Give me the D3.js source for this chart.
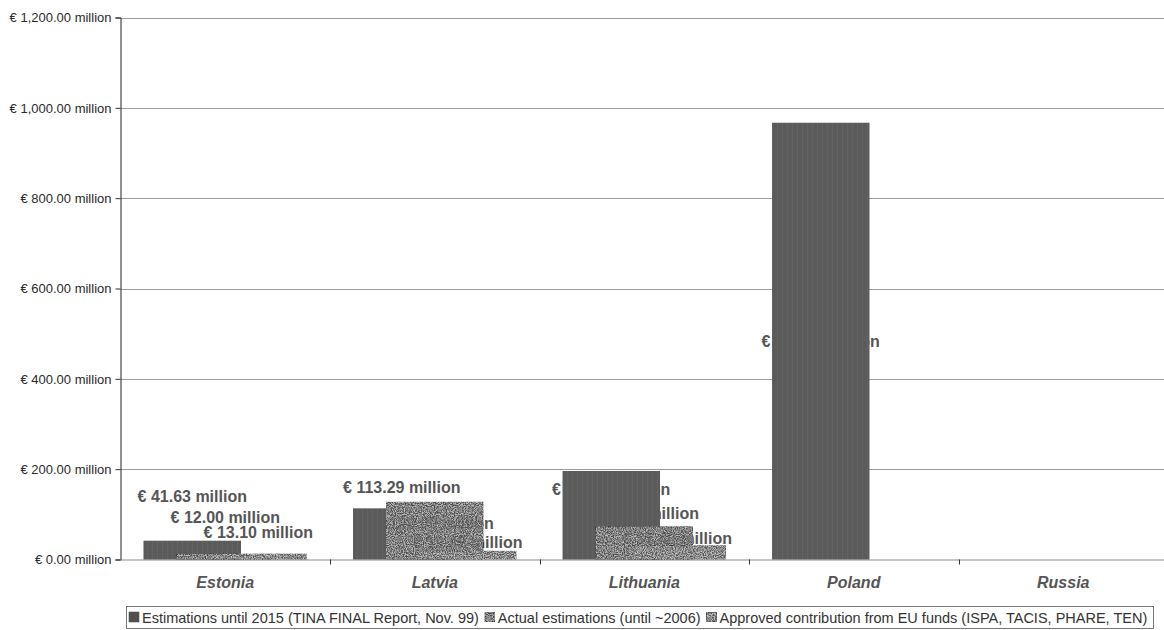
<!DOCTYPE html>
<html>
<head>
<meta charset="utf-8">
<script src="https://cdn.jsdelivr.net/npm/d3@7"></script>
<style>
  html, body { margin: 0; padding: 0; background: #ffffff; }
  svg { display: block; }
  text { font-family: "Liberation Sans", Arial, sans-serif; }
</style>
</head>
<body>
<svg id="chart" width="1164" height="630"></svg>
<script>
// ---------- data ----------
const categories = ["Estonia", "Latvia", "Lithuania", "Poland", "Russia"];
const seriesNames = [
  "Estimations until 2015 (TINA FINAL Report, Nov. 99)",
  "Actual estimations (until ~2006)",
  "Approved contribution from EU funds (ISPA, TACIS, PHARE, TEN)"
];
const estimations2015   = [41.63, 113.29, 196.00, 967.00, null];
const actualEstimations = [12.00, 128.00, 73.50, null, null];
const approvedEUFunds   = [13.10, 19.42, 31.40, null, null];
const yTickValues = [0, 200, 400, 600, 800, 1000, 1200];
// where each data label sits, in value units (as placed in the original)
const labelLevelsS1 = [139.5, 161.0, 155.0, 483.5, null];
const labelLevelsS2 = [93.5, 81.3, 103.4, null, null];
const labelLevelsS3 = [60.0, 38.3, 48.0, null, null];

// ---------- layout ----------
const svg = d3.select("#chart");
const W = 1164, H = 630;
const plot = { left: 120.5, right: 1168, top: 17.5, bottom: 559.5 };

const x = d3.scaleBand().domain(categories).range([plot.left, plot.right]).paddingInner(0).paddingOuter(0);
const y = d3.scaleLinear().domain([0, 1200]).range([plot.bottom, plot.top]);

const band = x.bandwidth();
const barW = band * 0.4654;
const barStep = band * 0.1575;
const groupW = barW + 2 * barStep;
const groupOff = (band - groupW) / 2;

const fmt = d3.format(",.2f");
const euro = v => "\u20AC " + fmt(v) + " million";

const seriesValues = [estimations2015, actualEstimations, approvedEUFunds];
const seriesLevels = [labelLevelsS1, labelLevelsS2, labelLevelsS3];
const barX = (c, s) => x(c) + groupOff + s * barStep;
const barData = s => categories.map((c, i) => ({ c, v: seriesValues[s][i] })).filter(d => d.v != null);

// ---------- defs: textures ----------
const defs = svg.append("defs");
const stripe = defs.append("pattern").attr("id", "stripe")
  .attr("patternUnits", "userSpaceOnUse").attr("width", 5).attr("height", 4);
stripe.append("rect").attr("width", 5).attr("height", 4).attr("fill", "#5b5b5b");
stripe.append("rect").attr("x", 2).attr("width", 1).attr("height", 4).attr("fill", "#626262");

const f = defs.append("filter").attr("id", "speckle")
  .attr("x", 0).attr("y", 0).attr("width", 1).attr("height", 1)
  .attr("color-interpolation-filters", "sRGB");
f.append("feTurbulence").attr("type", "fractalNoise").attr("baseFrequency", 0.9)
  .attr("numOctaves", 2).attr("seed", 5).attr("result", "noise");
f.append("feColorMatrix").attr("in", "noise").attr("type", "matrix")
  .attr("values", "1 0 0 0 0  1 0 0 0 0  1 0 0 0 0  0 0 0 0 1").attr("result", "gray");
const ct = f.append("feComponentTransfer").attr("in", "gray").attr("result", "contrast");
["feFuncR", "feFuncG", "feFuncB"].forEach(n =>
  ct.append(n).attr("type", "linear").attr("slope", 2.6).attr("intercept", -0.8));
f.append("feComposite").attr("in", "contrast").attr("in2", "SourceGraphic")
  .attr("operator", "arithmetic").attr("k1", 0).attr("k2", 0.45).attr("k3", 1).attr("k4", -0.225)
  .attr("result", "mix");
f.append("feComposite").attr("in", "mix").attr("in2", "SourceGraphic").attr("operator", "in");

// clip made of the textured bars, so label text shows faintly only through them
const clip = defs.append("clipPath").attr("id", "texturedBars");
[1, 2].forEach(s => {
  barData(s).forEach(d => {
    clip.append("rect").attr("x", barX(d.c, s)).attr("y", y(d.v))
      .attr("width", barW).attr("height", y(0) - y(d.v));
  });
});

const seriesFill = ["url(#stripe)", "#828282", "#8a8a8a"];
const seriesFilter = [null, "url(#speckle)", "url(#speckle)"];
const legendFill = ["#4f4f4f", "#9a9a9a", "#7a7a7a"];

// ---------- gridlines ----------
svg.append("g").selectAll("line").data(yTickValues.filter(d => d > 0)).join("line")
  .attr("x1", plot.left).attr("x2", W)
  .attr("y1", d => Math.round(y(d)) + 0.5).attr("y2", d => Math.round(y(d)) + 0.5)
  .attr("stroke", "#9c9c9c").attr("stroke-width", 1);

// ---------- y axis ----------
const yAxis = svg.append("g").attr("transform", `translate(${plot.left},0)`)
  .call(d3.axisLeft(y).tickValues(yTickValues).tickFormat(euro).tickSize(5).tickPadding(4));
yAxis.select(".domain").attr("stroke", "#222");
yAxis.selectAll(".tick line").attr("stroke", "#333");
yAxis.selectAll(".tick text").attr("font-size", 13).attr("fill", "#2a2a2a")
  .attr("font-family", "'Liberation Sans', Arial, sans-serif");

// ---------- x axis ----------
svg.append("line").attr("x1", plot.left).attr("x2", W)
  .attr("y1", plot.bottom + 0.5).attr("y2", plot.bottom + 0.5)
  .attr("stroke", "#8a8a8a").attr("stroke-width", 1.2);
svg.append("g").selectAll("line").data(categories).join("line")
  .attr("x1", d => Math.round(x(d) + band) + 0.5).attr("x2", d => Math.round(x(d) + band) + 0.5)
  .attr("y1", plot.bottom).attr("y2", plot.bottom + 5)
  .attr("stroke", "#333");
const xAxis = svg.append("g").attr("transform", `translate(0,${plot.bottom})`)
  .call(d3.axisBottom(x).tickSize(0).tickPadding(0));
xAxis.select(".domain").remove();
xAxis.selectAll(".tick text")
  .attr("y", 28).attr("dy", 0)
  .attr("font-size", 16).attr("font-weight", "bold").attr("font-style", "italic")
  .attr("fill", "#555").attr("font-family", "'Liberation Sans', Arial, sans-serif");

// ---------- data labels + bars ----------
function drawLabels(opacity, clipId) {
  const g = svg.append("g").attr("opacity", opacity);
  if (clipId) g.attr("clip-path", `url(#${clipId})`);
  seriesValues.forEach((vals, s) => {
    const data = categories.map((c, i) => ({ c, v: vals[i], lv: seriesLevels[s][i] }))
      .filter(d => d.v != null && d.lv != null);
    g.append("g").selectAll("text").data(data).join("text")
      .attr("x", d => barX(d.c, s) + barW / 2)
      .attr("y", d => y(d.lv))
      .attr("dy", "0.36em")
      .attr("text-anchor", "middle")
      .attr("font-size", 16).attr("font-weight", "bold")
      .attr("fill", "#555555")
      .text(d => euro(d.v));
  });
}

drawLabels(1, null);   // labels sit behind the bars

[0, 1, 2].forEach(s => {
  svg.append("g").selectAll("rect").data(barData(s)).join("rect")
    .attr("x", d => barX(d.c, s))
    .attr("y", d => y(d.v))
    .attr("width", barW)
    .attr("height", d => y(0) - y(d.v))
    .attr("fill", seriesFill[s])
    .attr("filter", seriesFilter[s]);
});

drawLabels(0.4, "texturedBars"); // faint show-through on the textured bars only

// ---------- legend ----------
const lg = svg.append("g");
lg.append("rect").attr("x", 126.5).attr("y", 606.5).attr("width", 1027).attr("height", 22)
  .attr("fill", "#fff").attr("stroke", "#777").attr("stroke-width", 1);
let cx = 129;
seriesNames.forEach((name, s) => {
  lg.append("rect").attr("x", cx).attr("y", 612).attr("width", 10).attr("height", 10)
    .attr("fill", s === 0 ? legendFill[0] : seriesFill[s])
    .attr("filter", seriesFilter[s])
    .attr("stroke", "#555").attr("stroke-width", 0.6);
  const t = lg.append("text").attr("x", cx + 13).attr("y", 622.5)
    .attr("font-size", 14.5).attr("fill", "#333").text(name);
  cx = cx + 13 + t.node().getComputedTextLength() + 6;
});
</script>
</body>
</html>
